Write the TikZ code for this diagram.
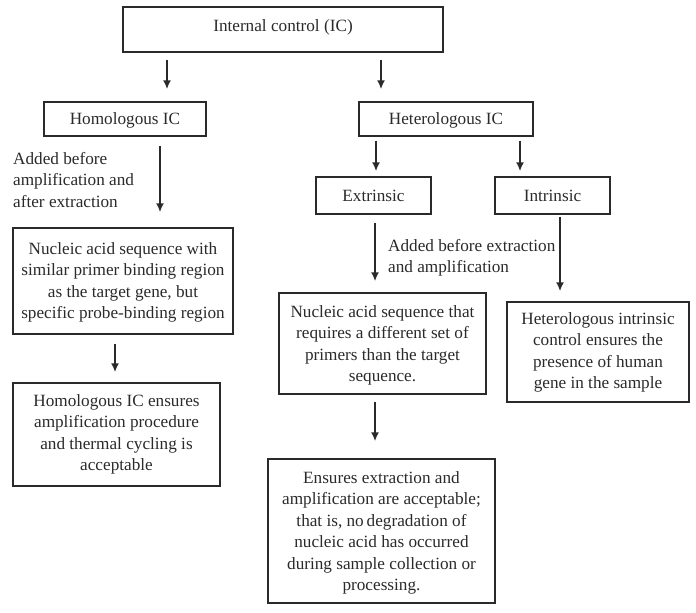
\documentclass[tikz,border=0pt]{standalone}
\usepackage{fontspec}
\setmainfont{Liberation Serif}
\usetikzlibrary{arrows.meta,positioning}
\definecolor{inkgray}{HTML}{2A2A2A}
\newcommand{\boxtxt}[4]{\parbox[c][#2][t]{#1}{\centering\vspace*{#3}\strut #4}}

\begin{document}
\begin{tikzpicture}[x=1pt,y=-1pt,
    box/.style={draw=inkgray, line width=1.4pt, inner sep=0pt, text=inkgray},
    arr/.style={draw=inkgray, line width=2pt, -{Latex[length=9pt,width=8pt]}},
    note/.style={align=left, inner sep=0pt, text=inkgray},
    every node/.append style={font=\fontsize{17.2}{21.5}\selectfont}]
    \useasboundingbox (0,0) rectangle (696,613);

    \node[box] (ic)      at (283,29.5)   {\boxtxt{320pt}{45pt}{9pt}{Internal control (IC)}} ;
    \node[box] (homo)    at (125,119)    {\boxtxt{162pt}{34pt}{7pt}{Homologous IC}} ;
    \node[box] (hetero)  at (446,119)    {\boxtxt{174pt}{34pt}{7pt}{Heterologous IC}} ;
    \node[box] (extr)    at (373.5,195.5) {\boxtxt{115pt}{37pt}{9pt}{Extrinsic}} ;
    \node[box] (intr)    at (552.5,195.5) {\boxtxt{115pt}{37pt}{9pt}{Intrinsic}} ;
    \node[box] (homseq)  at (123,281)    {\boxtxt{220pt}{106pt}{11pt}{Nucleic acid sequence with\\ similar primer binding region\\ as the target gene, but\\ specific probe-binding region}} ;
    \node[box] (homens)  at (116.5,434.5) {\boxtxt{207pt}{103pt}{8pt}{Homologous IC ensures\\ amplification procedure\\ and thermal cycling is\\ acceptable}} ;
    \node[box] (hetseq)  at (382.5,343.5) {\boxtxt{207pt}{101pt}{9pt}{Nucleic acid sequence that\\ requires a different set of\\ primers than the target\\ sequence.}} ;
    \node[box] (intens)  at (598,352)    {\boxtxt{182pt}{100pt}{7pt}{Heterologous intrinsic\\ control ensures the\\ presence of human\\ gene in the sample}} ;
    \node[box] (ensures) at (381.5,531)  {\boxtxt{227pt}{144pt}{9pt}{Ensures extraction and\\ amplification are acceptable;\\ that is, no\,degradation of\\ nucleic acid has occurred\\ during sample collection or\\ processing.}} ;

    \node[note, anchor=west] (addhom) at (13,180) {Added before\\ amplification and\\ after extraction} ;
    \node[note, anchor=west] (addext) at (388,258) {Added before extraction\\ and amplification} ;

    % x positions of the arrows
    \coordinate (xa) at (167,0) ;
    \coordinate (xb) at (381,0) ;
    \coordinate (xc) at (376,0) ;
    \coordinate (xd) at (520,0) ;
    \coordinate (xe) at (160,0) ;
    \coordinate (xf) at (115,0) ;
    \coordinate (xg) at (375,0) ;
    \coordinate (xh) at (560,0) ;

    \draw[arr, shorten <=7pt, shorten >=12pt] (ic.south -| xa) -- (homo.north -| xa) ;
    \draw[arr, shorten <=7pt, shorten >=12pt] (ic.south -| xb) -- (hetero.north -| xb) ;
    \draw[arr, shorten <=4pt, shorten >=5pt] (hetero.south -| xc) -- (extr.north -| xc) ;
    \draw[arr, shorten <=4pt, shorten >=5pt] (hetero.south -| xd) -- (intr.north -| xd) ;
    \draw[arr, shorten <=9pt, shorten >=15pt] (homo.south -| xe) -- (homseq.north -| xe) ;
    \draw[arr, shorten <=9pt, shorten >=10pt] (homseq.south -| xf) -- (homens.north -| xf) ;
    \draw[arr, shorten <=8pt, shorten >=11pt] (extr.south -| xg) -- (hetseq.north -| xg) ;
    \draw[arr, shorten <=2pt, shorten >=10pt] (intr.south -| xh) -- (intens.north -| xh) ;
    \draw[arr, shorten <=7pt, shorten >=17pt] (hetseq.south -| xg) -- (ensures.north -| xg) ;
\end{tikzpicture}
\end{document}
